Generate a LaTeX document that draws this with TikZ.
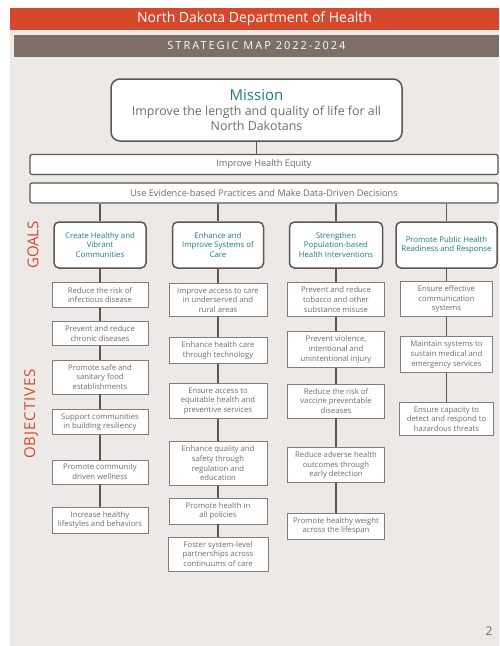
\documentclass[tikz,border=0pt]{standalone}
\usepackage{fontspec}
\setmainfont{Open Sans}
\definecolor{ndred}{HTML}{D6482C}
\definecolor{mapgrey}{HTML}{7B6F68}
\definecolor{pagebg}{HTML}{ECE9E6}
\definecolor{frameline}{HTML}{5F5651}
\definecolor{objline}{HTML}{857C77}
\definecolor{tealtext}{HTML}{1C7C86}
\definecolor{textgrey}{HTML}{6E6E6E}
\tikzset{
  header/.style={fill=ndred, text=white, minimum width=489pt, minimum height=22pt,
    inner sep=0pt, font=\fontsize{14}{16}\selectfont},
  mapbar/.style={fill=mapgrey, text=white, minimum width=485pt, minimum height=22pt,
    inner sep=0pt, font=\fontsize{11}{13}\selectfont},
  mission/.style={draw=frameline, line width=1.5pt, fill=white, rounded corners=9pt,
    minimum width=291pt, minimum height=62pt, align=center, text=textgrey,
    font=\fontsize{12.4}{15}\selectfont},
  widebar/.style={draw=frameline, line width=1.2pt, fill=white, rounded corners=2pt,
    minimum width=468pt, minimum height=20pt, inner sep=0pt, text=textgrey,
    font=\fontsize{9.2}{11}\selectfont},
  goal/.style={draw=frameline, line width=1.5pt, fill=white, rounded corners=5pt,
    minimum height=46pt, align=center, text=tealtext, inner sep=2pt,
    font=\fontsize{7.8}{9.7}\selectfont},
  obj/.style={draw=objline, line width=0.9pt, fill=white, minimum width=96pt,
    align=center, inner ysep=4.3pt, text=textgrey,
    font=\fontsize{7.7}{9.7}\selectfont},
  sidelabel/.style={rotate=90, text=ndred, font=\fontsize{15}{17}\selectfont},
  link/.style={draw=frameline, line width=1.2pt},
}
\begin{document}
\begin{tikzpicture}[x=1pt, y=-1pt]
  \useasboundingbox (0,0) rectangle (499,646);
  \fill[pagebg] (10,30) rectangle (499,646);
  \draw (254.5,19) node[header] (head) {North Dakota Department of Health}
        (256.5,46) node[mapbar] (map) {\addfontfeature{LetterSpace=18}STRATEGIC MAP 2022-2024}
        (256.5,110) node[mission] (mis) {{\fontsize{15}{17}\selectfont\color{tealtext}Mission}\\
          Improve the length and quality of life for all\\North Dakotans}
        (264,164.5) node[widebar] (eq) {Improve Health Equity}
        (264,193) node[widebar] (ev) {Use Evidence-based Practices and Make Data-Driven Decisions}
        (33,245) node[sidelabel] (goals) {GOALS}
        (31,414) node[sidelabel] (objs) {\addfontfeature{LetterSpace=6}OBJECTIVES}
        % goals
        (100,245) node[goal, minimum width=92pt] (g1) {Create Healthy and\\Vibrant\\Communities}
        (218,245) node[goal, minimum width=91pt] (g2) {Enhance and\\Improve Systems of\\Care}
        (336,245) node[goal, minimum width=93pt] (g3) {Strengthen\\Population-based\\Health Interventions}
        (446.5,245) node[goal, minimum width=101pt] (g4) {Promote Public Health\\Readiness and Response}
        % objectives
        (100,295) node[obj] (o1a) {Reduce the risk of\\infectious disease}
        (100,333.5) node[obj] (o1b) {Prevent and reduce\\chronic diseases}
        (100,377) node[obj] (o1c) {Promote safe and\\sanitary food\\establishments}
        (100,422) node[obj] (o1d) {Support communities\\in building resiliency}
        (100,472) node[obj] (o1e) {Promote community\\driven wellness}
        (100,520) node[obj] (o1f) {Increase healthy\\lifestyles and behaviors}
        (218,300) node[obj, minimum width=98pt] (o2a) {Improve access to care\\in underserved and\\rural areas}
        (218,350.5) node[obj, minimum width=98pt] (o2b) {Enhance health care\\through technology}
        (218,401) node[obj, minimum width=98pt] (o2c) {Ensure access to\\equitable health and\\preventive services}
        (218,463.5) node[obj, minimum width=98pt] (o2d) {Enhance quality and\\safety through\\regulation and\\education}
        (218,511) node[obj, minimum width=98pt] (o2e) {Promote health in\\all policies}
        (218,554) node[obj, minimum width=100pt] (o2f) {Foster system-level\\partnerships across\\continuums of care}
        (336,299.5) node[obj, minimum width=97pt] (o3a) {Prevent and reduce\\tobacco and other\\substance misuse}
        (336,349.5) node[obj, minimum width=97pt] (o3b) {Prevent violence,\\intentional and\\unintentional injury}
        (336,401) node[obj, minimum width=97pt] (o3c) {Reduce the risk of\\vaccine preventable\\diseases}
        (336,465) node[obj, minimum width=97pt] (o3d) {Reduce adverse health\\outcomes through\\early detection}
        (336,526) node[obj, minimum width=97pt] (o3e) {Promote healthy weight\\across the lifespan}
        (446.5,299) node[obj, minimum width=92pt] (o4a) {Ensure effective\\communication\\systems}
        (446.5,354.5) node[obj, minimum width=92pt] (o4b) {Maintain systems to\\sustain medical and\\emergency services}
        (446.5,419) node[obj, minimum width=94pt] (o4c) {Ensure capacity to\\detect and respond to\\hazardous threats}
        (489,631) node[text=textgrey, font=\fontsize{12}{14}\selectfont] (page) {2}

        (mis) edge[link] (mis.south |- eq.north)
        (ev.south -| g1) edge[link] (g1)
        (ev.south -| g2) edge[link] (g2)
        (ev.south -| g3) edge[link] (g3)
        (ev.south -| g4) edge[link] (g4)
        (g1) edge[link] (o1a)
        (o1a) edge[link] (o1b)
        (o1b) edge[link] (o1c)
        (o1c) edge[link] (o1d)
        (o1d) edge[link] (o1e)
        (o1e) edge[link] (o1f)
        (g2) edge[link] (o2a)
        (o2a) edge[link] (o2b)
        (o2b) edge[link] (o2c)
        (o2c) edge[link] (o2d)
        (o2d) edge[link] (o2e)
        (o2e) edge[link] (o2f)
        (g3) edge[link] (o3a)
        (o3a) edge[link] (o3b)
        (o3b) edge[link] (o3c)
        (o3c) edge[link] (o3d)
        (o3d) edge[link] (o3e)
        (g4) edge[link] (o4a)
        (o4a) edge[link] (o4b)
        (o4b) edge[link] (o4c)
        ;
\end{tikzpicture}
\end{document}
